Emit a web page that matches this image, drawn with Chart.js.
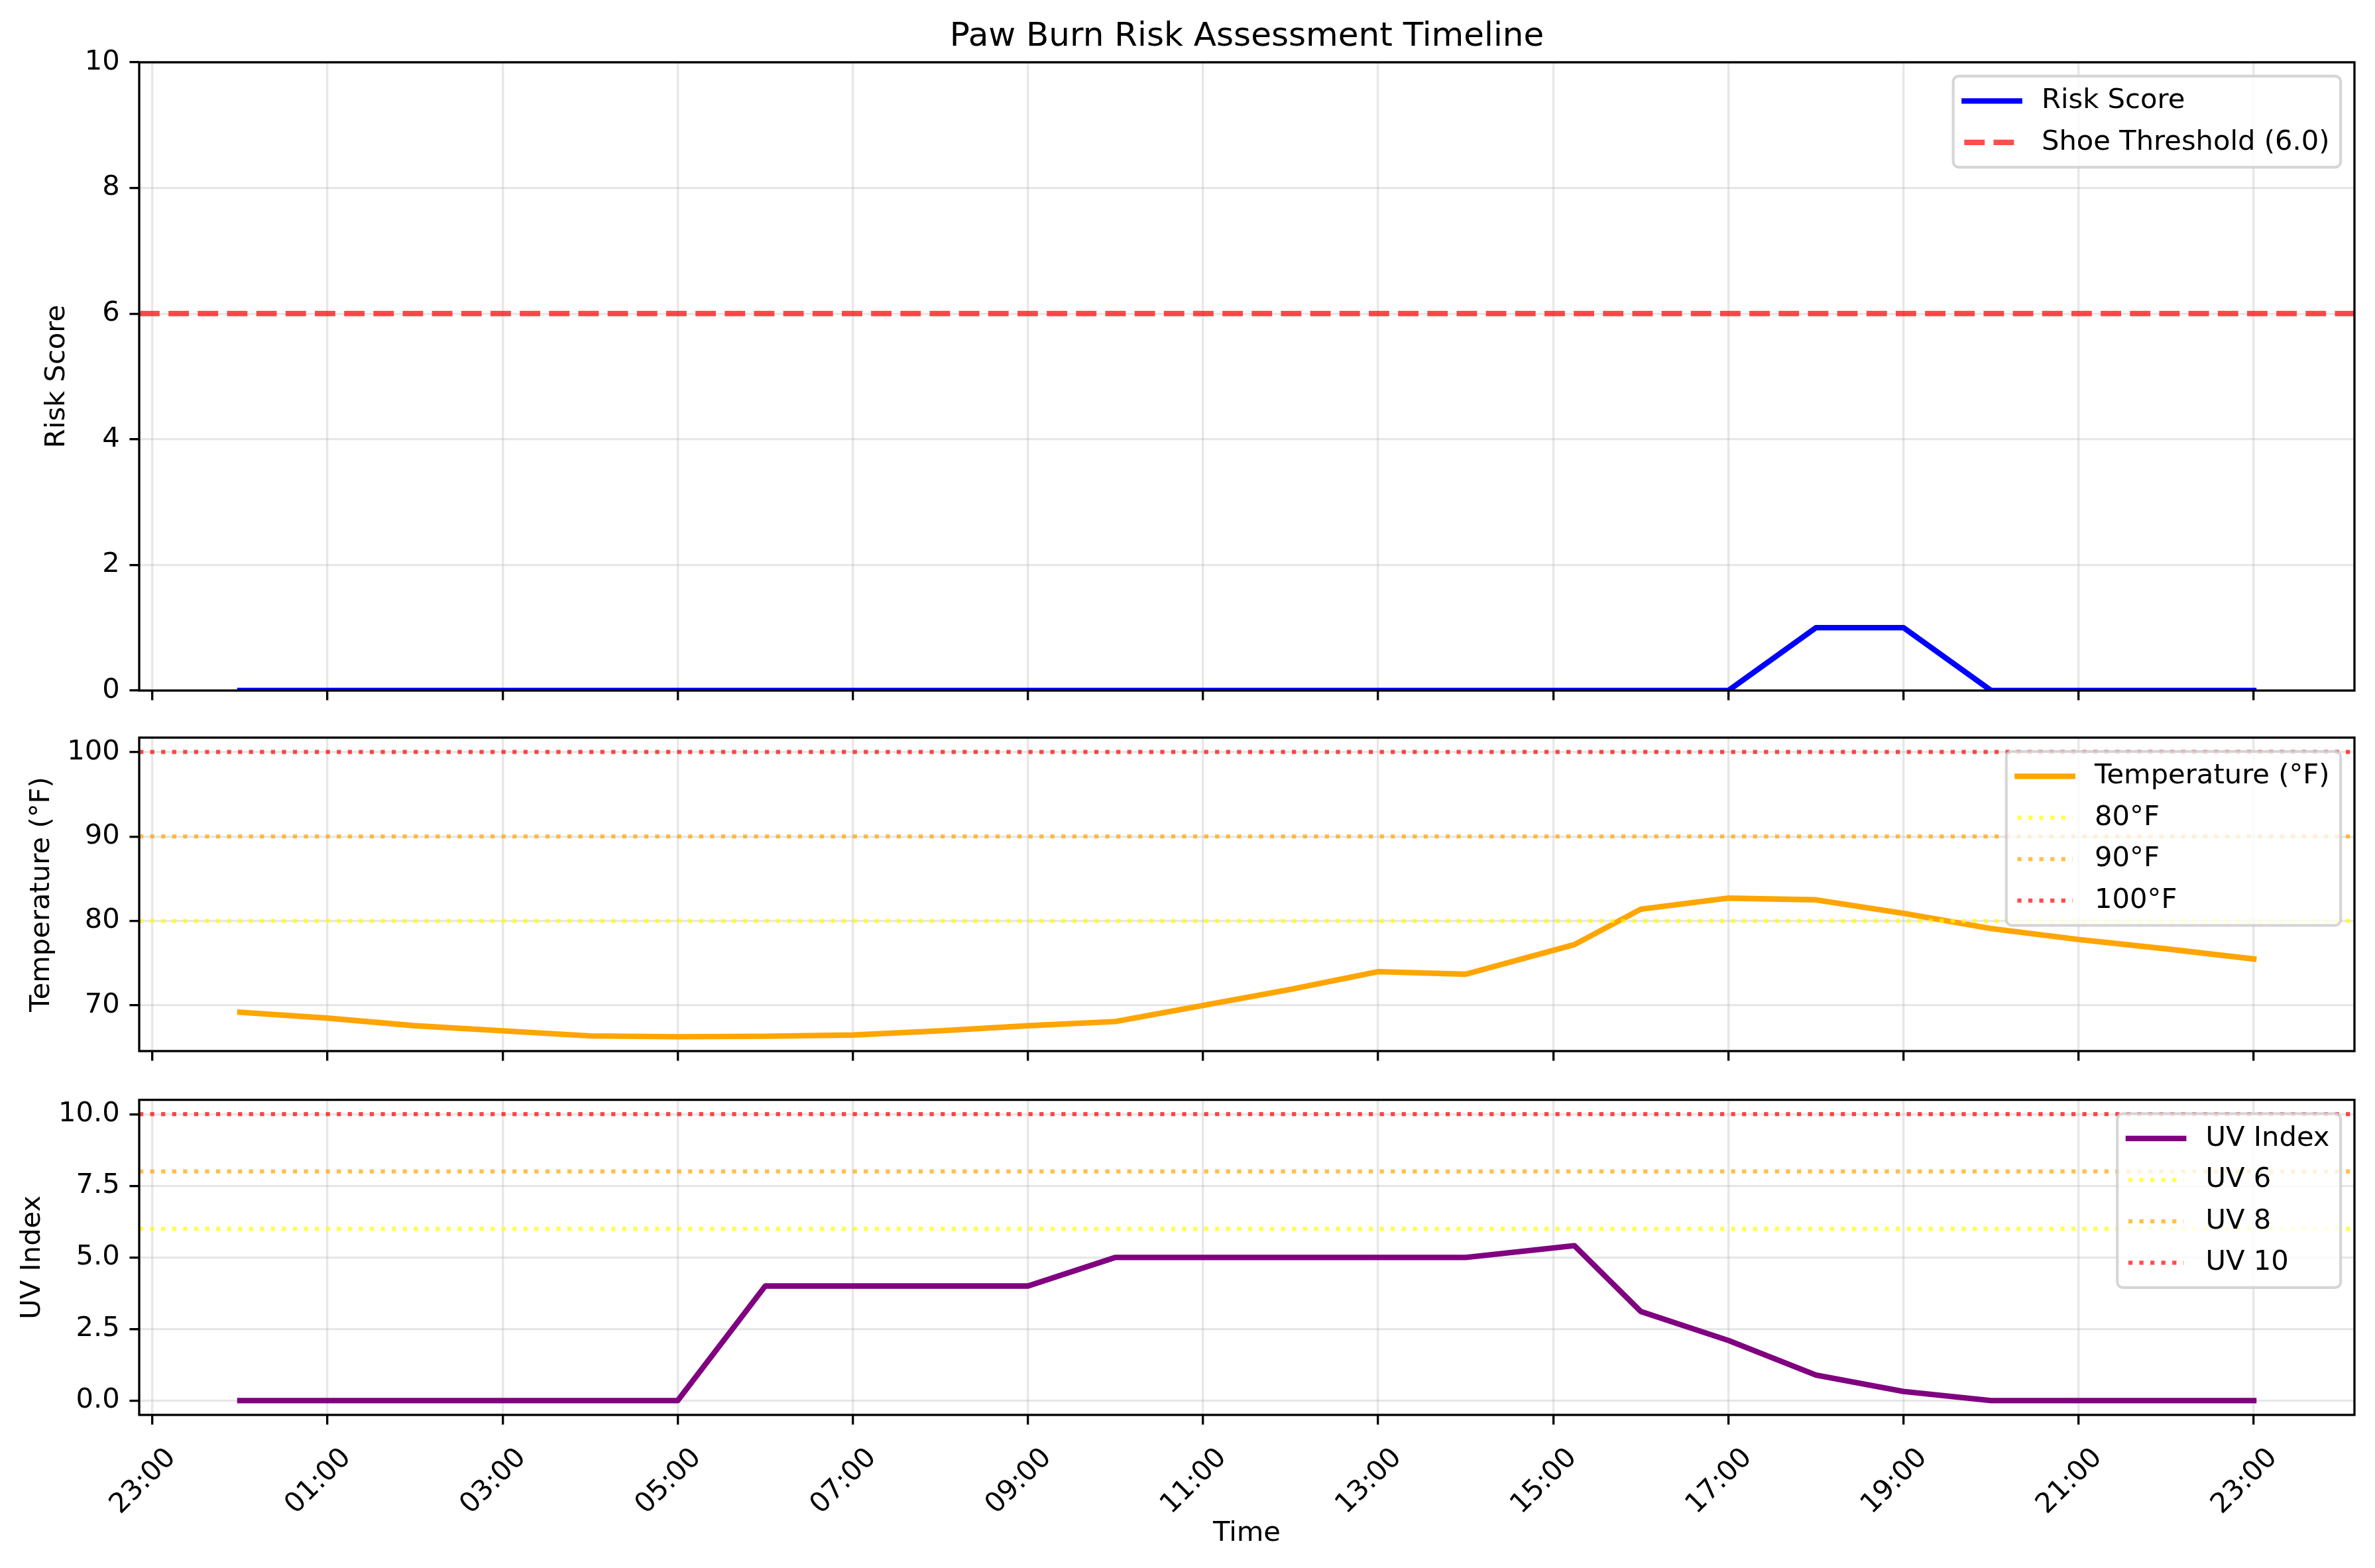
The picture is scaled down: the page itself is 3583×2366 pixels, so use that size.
<!DOCTYPE html>
<html>
<head>
<meta charset="utf-8">
<title>Paw Burn Risk Assessment Timeline</title>
<script src="https://cdn.jsdelivr.net/npm/chart.js@4.4.1/dist/chart.umd.min.js"></script>
<style>
  html, body { margin: 0; padding: 0; background: #fff; }
  body { width: 3583px; height: 2366px; position: relative; overflow: hidden; }
  .panel { position: absolute; left: 0; width: 3583px; }
  #risk-box { top: 0; height: 1100px; }
  #temp-box { top: 1070px; height: 580px; }
  #uv-box { top: 1620px; height: 746px; }
</style>
</head>
<body>
<div class="panel" id="risk-box"><canvas id="chart-risk"></canvas></div>
<div class="panel" id="temp-box"><canvas id="chart-temp"></canvas></div>
<div class="panel" id="uv-box"><canvas id="chart-uv"></canvas></div>

<script>
// readings, hours after midnight (15.24 is the 15:14 reading)
const HOURS = [0, 1, 2, 3, 4, 5, 6, 7, 8, 9, 10, 11, 12, 13, 14, 15.24, 16, 17, 18, 19, 20, 21, 22, 23];
const RISK  = [0, 0, 0, 0, 0, 0, 0, 0, 0, 0, 0, 0, 0, 0, 0, 0, 0, 0, 1, 1, 0, 0, 0, 0];
const TEMP  = [69.2, 68.5, 67.6, 67.0, 66.4, 66.3, 66.35, 66.5, 67.0, 67.6, 68.1, 70.0,
               71.9, 74.0, 73.7, 77.2, 81.4, 82.7, 82.5, 80.9, 79.1, 77.8, 76.7, 75.5];
const UV    = [0, 0, 0, 0, 0, 0, 4, 4, 4, 4, 5, 5, 5, 5, 5, 5.41, 3.11, 2.1, 0.89, 0.32, 0, 0, 0, 0];

const X_TICKS = [-1, 1, 3, 5, 7, 9, 11, 13, 15, 17, 19, 21, 23];
const X_TICK_LABELS = ['23:00', '01:00', '03:00', '05:00', '07:00', '09:00', '11:00',
                       '13:00', '15:00', '17:00', '19:00', '21:00', '23:00'];
const X_RANGE = [-1.15, 24.15];

const RISK_TICKS = [0, 2, 4, 6, 8, 10];
const TEMP_TICKS = [70, 80, 90, 100];
const UV_TICKS = [0, 2.5, 5, 7.5, 10];

const SHOE_THRESHOLD = 6.0;
const TEMP_LEVELS = [80, 90, 100];
const UV_LEVELS = [6, 8, 10];
const LEVEL_COLORS = ['rgba(255,255,0,0.7)', 'rgba(255,165,0,0.7)', 'rgba(255,0,0,0.7)'];

// matplotlib-ish sizing at 300 dpi
const PT = 300 / 72;
const FS = 10 * PT;
const SPINE_W = 0.8 * PT;
const TICK_LEN = 3.5 * PT;
const GRID = 'rgba(176,176,176,0.3)';
const FONT = { family: 'DejaVu Sans', size: FS, lineHeight: 1.2 };

Chart.defaults.font.family = 'DejaVu Sans';
Chart.defaults.color = '#000';

const framePlugin = {
  id: 'frame',
  afterDatasetsDraw(chart) {
    const { ctx, chartArea: a } = chart;
    ctx.save();
    ctx.strokeStyle = '#000';
    ctx.lineWidth = SPINE_W;
    ctx.strokeRect(a.left, a.top, a.right - a.left, a.bottom - a.top);
    ctx.restore();
  }
};

const boxLegend = {
  id: 'boxLegend',
  afterDraw(chart) {
    const { ctx, chartArea: a } = chart;
    const sets = chart.data.datasets;
    ctx.save();
    ctx.font = `${FS}px "DejaVu Sans"`;
    const textW = Math.max(...sets.map(d => ctx.measureText(d.label).width));
    const pad = 0.4 * FS, gap = 0.5 * FS, hl = 2 * FS, htp = 0.8 * FS, ap = 0.5 * FS, rowH = FS;
    const w = 2 * pad + hl + htp + textW;
    const h = 2 * pad + sets.length * rowH + (sets.length - 1) * gap;
    const x = a.right - ap - w, y = a.top + ap;

    ctx.beginPath();
    ctx.roundRect(x, y, w, h, 0.2 * FS);
    ctx.fillStyle = 'rgba(255,255,255,0.8)';
    ctx.fill();
    ctx.lineWidth = PT;
    ctx.strokeStyle = 'rgba(204,204,204,0.8)';
    ctx.stroke();

    sets.forEach((d, i) => {
      const cy = y + pad + rowH / 2 + i * (rowH + gap);
      const dash = d.borderDash || [];
      ctx.beginPath();
      ctx.setLineDash(dash);
      ctx.lineCap = dash.length ? 'butt' : 'square';
      ctx.strokeStyle = d.borderColor;
      ctx.lineWidth = d.borderWidth;
      ctx.moveTo(x + pad, cy);
      ctx.lineTo(x + pad + hl, cy);
      ctx.stroke();
      ctx.setLineDash([]);
      ctx.fillStyle = '#000';
      ctx.textAlign = 'left';
      ctx.textBaseline = 'middle';
      ctx.fillText(d.label, x + pad + hl + htp, cy);
    });
    ctx.restore();
  }
};

const figTitle = {
  id: 'figTitle',
  afterDraw(chart, args, opts) {
    if (!opts.text) return;
    const { ctx, chartArea: a } = chart;
    ctx.save();
    ctx.font = `${12 * PT}px "DejaVu Sans"`;
    ctx.fillStyle = '#000';
    ctx.textAlign = 'center';
    ctx.textBaseline = 'alphabetic';
    ctx.fillText(opts.text, (a.left + a.right) / 2, a.top - 25);
    ctx.restore();
  }
};

function seriesLine(label, values, color) {
  return {
    label,
    data: HOURS.map((h, i) => ({ x: h, y: values[i] })),
    borderColor: color,
    borderWidth: 2 * PT,
    pointRadius: 0,
    tension: 0,
    fill: false,
    borderJoinStyle: 'round',
    borderCapStyle: 'square',
    clip: 0,
    order: 1
  };
}

function levelLine(label, level, color, dash, width) {
  return {
    label,
    data: [{ x: X_RANGE[0], y: level }, { x: X_RANGE[1], y: level }],
    borderColor: color,
    borderWidth: width,
    borderDash: dash,
    borderCapStyle: 'butt',
    pointRadius: 0,
    fill: false,
    clip: 0,
    order: 0
  };
}

function xScale(showLabels, height) {
  return {
    type: 'linear',
    min: X_RANGE[0],
    max: X_RANGE[1],
    afterBuildTicks: s => { s.ticks = X_TICKS.map(v => ({ value: v })); },
    afterFit: s => { s.height = height; },
    border: { display: false },
    grid: { color: GRID, lineWidth: SPINE_W, drawTicks: true, tickLength: TICK_LEN, tickColor: '#000', tickWidth: SPINE_W },
    ticks: {
      display: showLabels,
      autoSkip: false,
      minRotation: 45,
      maxRotation: 45,
      padding: 26,
      labelOffset: 29,
      font: FONT,
      color: '#000',
      callback: (v, i) => X_TICK_LABELS[i]
    },
    title: { display: showLabels, text: 'Time', font: FONT, color: '#000' }
  };
}

function yScale(title, range, tickValues, width, fmt) {
  return {
    min: range[0],
    max: range[1],
    afterBuildTicks: s => { s.ticks = tickValues.map(v => ({ value: v })); },
    afterFit: s => { s.width = width; },
    border: { display: false },
    grid: { color: GRID, lineWidth: SPINE_W, drawTicks: true, tickLength: TICK_LEN, tickColor: '#000', tickWidth: SPINE_W },
    ticks: { padding: TICK_LEN, font: FONT, color: '#000', callback: fmt },
    title: { display: true, text: title, font: FONT, color: '#000' }
  };
}

function makePanel(id, datasets, opts) {
  return new Chart(document.getElementById(id), {
    type: 'line',
    data: { datasets },
    plugins: [framePlugin, boxLegend, figTitle],
    options: {
      responsive: true,
      maintainAspectRatio: false,
      animation: false,
      devicePixelRatio: 1,
      layout: { padding: opts.padding },
      scales: { x: xScale(opts.xLabels, opts.xHeight), y: opts.y },
      plugins: {
        legend: { display: false },
        tooltip: { enabled: false },
        figTitle: { text: opts.title || '' }
      }
    }
  });
}

const dotted = [1 * 1.5 * PT, 1.65 * 1.5 * PT];
const dashed = [3.7 * 2 * PT, 1.6 * 2 * PT];

makePanel('chart-risk', [
  seriesLine('Risk Score', RISK, '#0000ff'),
  levelLine(`Shoe Threshold (${SHOE_THRESHOLD.toFixed(1)})`, SHOE_THRESHOLD, 'rgba(255,0,0,0.7)', dashed, 2 * PT)
], {
  title: 'Paw Burn Risk Assessment Timeline',
  padding: { left: 57, right: 31, top: 94, bottom: 0 },
  xLabels: false, xHeight: 58,
  y: yScale('Risk Score', [0, 10], RISK_TICKS, 153, v => String(v))
});

makePanel('chart-temp', [
  seriesLine('Temperature (°F)', TEMP, '#ffa500'),
  ...TEMP_LEVELS.map((t, i) => levelLine(`${t}°F`, t, LEVEL_COLORS[i], dotted, 1.5 * PT))
], {
  padding: { left: 34, right: 31, top: 43, bottom: 0 },
  xLabels: false, xHeight: 64,
  y: yScale('Temperature (°F)', [64.6, 101.7], TEMP_TICKS, 176, v => String(v))
});

makePanel('chart-uv', [
  seriesLine('UV Index', UV, '#800080'),
  ...UV_LEVELS.map((u, i) => levelLine(`UV ${u}`, u, LEVEL_COLORS[i], dotted, 1.5 * PT))
], {
  padding: { left: 20, right: 31, top: 37, bottom: 23 },
  xLabels: true, xHeight: 208,
  y: yScale('UV Index', [-0.5, 10.5], UV_TICKS, 190, v => v.toFixed(1))
});
</script>
</body>
</html>
